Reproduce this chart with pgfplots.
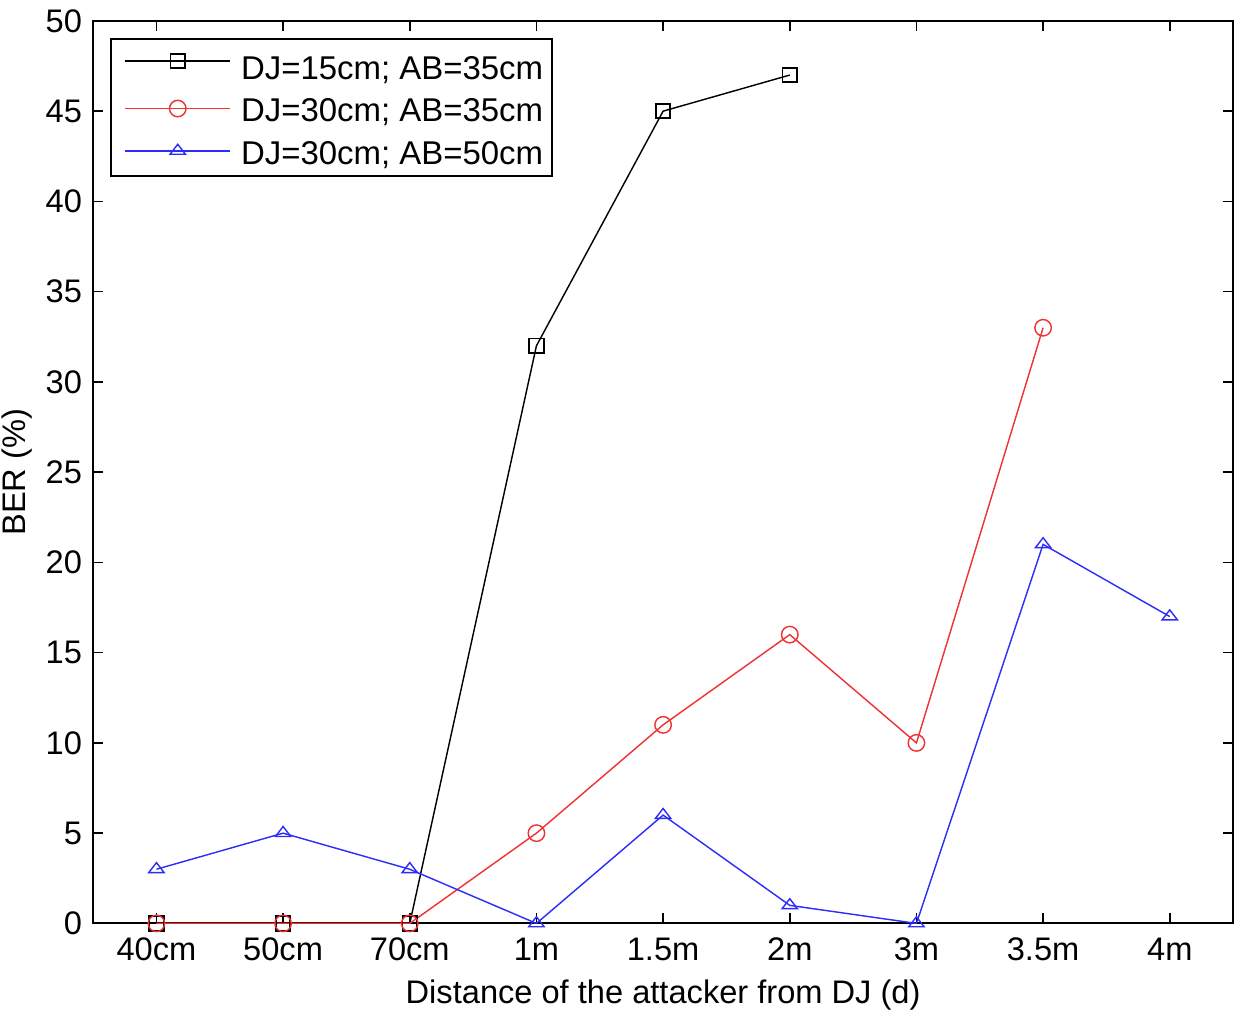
\documentclass[border=0pt]{standalone}
\usepackage{pgfplots}
\pgfplotsset{compat=1.18}
\usepackage{fontspec}
\setmainfont{Liberation Sans}
\definecolor{myred}{RGB}{240,50,50}
\definecolor{myblue}{RGB}{45,45,250}
\begin{document}
\begin{tikzpicture}
\begin{axis}[
  at={(0,0)}, anchor=south west,
  scale only axis, width=360pt, height=285pt,
  xmin=-0.5, xmax=8.5, ymin=0, ymax=50,
  xtick={0,...,8},
  xticklabels={40cm,50cm,70cm,1m,1.5m,2m,3m,3.5m,4m},
  ytick={0,5,...,50},
  tick align=inside, major tick length=3.2pt,
  tick style={black, line width=0.5pt},
  axis line style={line width=0.6pt},
  font=\fontsize{10.3}{12}\selectfont,
  tick label style={font=\fontsize{10.3}{12}\selectfont},
  /pgf/number format/assume math mode=true,
  xlabel={Distance of the attacker from DJ (d)},
  ylabel={BER (\%)},
  xlabel style={yshift=0.9pt},
  ylabel style={yshift=-2.7pt},
  xticklabel style={yshift=-1.1pt},
  legend style={at={(0.015,0.981)}, anchor=north west, draw=black, line width=0.6pt,
    font=\fontsize{10.4}{12}\selectfont, row sep=0.63pt, inner xsep=0.75pt, inner ysep=0.25pt},
  legend cell align=left,
  legend image code/.code={
    \path (0cm,0cm) (1.33cm,0cm);
    \draw[yshift=1.3pt,mark repeat=2,mark phase=2] plot coordinates {(0.123cm,0cm) (0.705cm,0cm) (1.287cm,0cm)};
  },
]
\addplot[black, line width=0.45pt, mark=square, mark size=2.3pt, mark options={solid, line width=0.6pt}]
  coordinates {(0,0) (1,0) (2,0) (3,32) (4,45) (5,47)};
\addlegendentry{\rule{0pt}{10.5pt}DJ=15cm; AB=35cm}
\addplot[myred, line width=0.45pt, mark=o, mark size=2.6pt, mark options={solid, line width=0.45pt}]
  coordinates {(0,0) (1,0) (2,0) (3,5) (4,11) (5,16) (6,10) (7,33)};
\addlegendentry{DJ=30cm; AB=35cm}
\addplot[myblue, line width=0.45pt, mark=triangle, mark size=2.8pt, mark options={solid, line width=0.45pt, yscale=0.75}]
  coordinates {(0,3) (1,5) (2,3) (3,0) (4,6) (5,1) (6,0) (7,21) (8,17)};
\addlegendentry{DJ=30cm; AB=50cm}
\end{axis}
\pgfresetboundingbox
\path[use as bounding box] (-29.4pt,-27.8pt) rectangle (360.6pt,291.6pt);
\end{tikzpicture}
\end{document}
